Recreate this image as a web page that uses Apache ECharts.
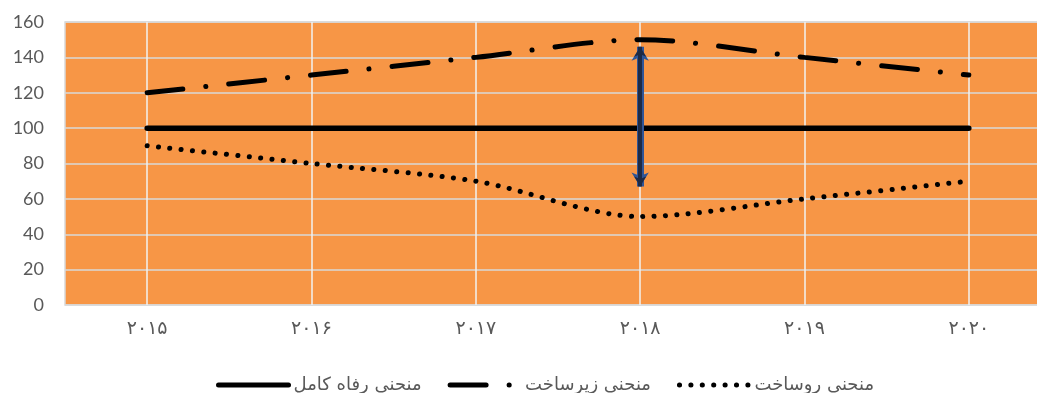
<!DOCTYPE html>
<html>
<head>
<meta charset="utf-8">
<script src="https://cdn.jsdelivr.net/npm/echarts@6/dist/echarts.min.js"></script>
<style>
  html, body { margin: 0; padding: 0; background: #ffffff; overflow: hidden; }
  #wrap { width: 1037px; height: 393px; overflow: hidden; }
  /* the plot area runs past the right edge of the view */
  #chart { width: 1051px; height: 393px; }
</style>
</head>
<body>
<div id="wrap"><div id="chart"></div></div>
<script>
// Years (Persian digits) along the horizontal axis
const years = ['۲۰۱۵', '۲۰۱۶', '۲۰۱۷', '۲۰۱۸', '۲۰۱۹', '۲۰۲۰'];

// Series names
const nameWelfare = 'منحنی رفاه کامل';
const nameInfra = 'منحنی زیرساخت';
const nameSuper = 'منحنی روساخت';

// Series values
const welfareValues = [100, 100, 100, 100, 100, 100];
const infraValues = [120, 130, 140, 150, 140, 130];
const superValues = [90, 80, 70, 50, 60, 70];

// Gap indicator drawn at 2018 (from, to)
const gapYear = '۲۰۱۸';
const gapRange = [146, 67];

// Y axis scale
const yMin = 0, yMax = 160, yStep = 20;

const gray = '#595959';
const gridGray = '#d9d9d9';

const chart = echarts.init(document.getElementById('chart'), null, { renderer: 'canvas' });

chart.setOption({
  backgroundColor: '#ffffff',
  animation: false,
  grid: {
    left: 65, right: 0, top: 22, bottom: 88,
    show: true,
    backgroundColor: '#F79646',
    borderColor: gridGray,
    borderWidth: 1.5
  },
  legend: {
    data: [nameWelfare, nameInfra, nameSuper],
    left: 211,
    top: 371,
    itemWidth: 70,
    itemHeight: 2,
    itemGap: 26,
    lineStyle: { width: 5, cap: 'round' },
    textStyle: { color: gray, fontSize: 18, fontFamily: 'DejaVu Sans' }
  },
  xAxis: {
    type: 'category',
    data: years,
    boundaryGap: true,
    axisLine: { show: false },
    axisTick: { show: false },
    axisLabel: { color: gray, fontSize: 19, fontFamily: 'DejaVu Sans', margin: 15 },
    splitLine: { show: true, alignWithLabel: true, lineStyle: { color: '#f2f2f2', width: 1.5 } }
  },
  yAxis: {
    type: 'value',
    min: yMin, max: yMax, interval: yStep,
    axisLine: { show: false },
    axisTick: { show: false },
    axisLabel: { color: gray, fontSize: 18, fontFamily: 'Lato', margin: 21 },
    splitLine: { show: true, lineStyle: { color: gridGray, width: 1.5 } }
  },
  series: [
    {
      name: nameSuper,
      type: 'line',
      data: superValues,
      smooth: 0.3,
      symbol: 'none',
      lineStyle: { color: '#000', width: 5, type: [0.1, 11.3], cap: 'round' },
      itemStyle: { color: '#000' },
      z: 3
    },
    {
      name: nameInfra,
      type: 'line',
      data: infraValues,
      smooth: 0.3,
      symbol: 'none',
      lineStyle: { color: '#000', width: 5, type: [36, 23, 0.1, 23], cap: 'round' },
      itemStyle: { color: '#000' },
      z: 3
    },
    {
      name: nameWelfare,
      type: 'line',
      data: welfareValues,
      symbol: 'none',
      lineStyle: { color: '#000', width: 5.5, type: 'solid', cap: 'round' },
      itemStyle: { color: '#000' },
      z: 3,
      markLine: {
        silent: true,
        z: 10,
        symbol: ['arrow', 'arrow'],
        symbolSize: [13, 14],
        label: { show: false },
        lineStyle: { color: '#2f5597', width: 7, type: 'solid' },
        data: [[{ coord: [gapYear, gapRange[0]] }, { coord: [gapYear, gapRange[1]] }]]
      }
    },
    {
      // inner fill of the gap indicator
      type: 'line',
      data: [],
      markLine: {
        silent: true,
        z: 11,
        symbol: ['arrow', 'arrow'],
        symbolSize: [9, 10],
        label: { show: false },
        lineStyle: { color: '#1e2a45', width: 4, type: 'solid' },
        data: [[{ coord: [gapYear, gapRange[0]] }, { coord: [gapYear, gapRange[1]] }]]
      }
    }
  ]
});
</script>
</body>
</html>
